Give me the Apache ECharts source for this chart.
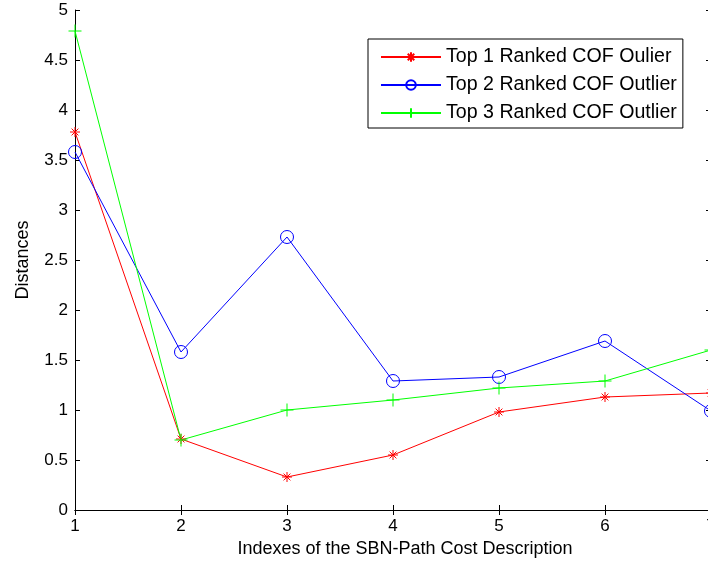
<!DOCTYPE html>
<html><head><meta charset="utf-8">
<script src="https://cdn.jsdelivr.net/npm/echarts@6/dist/echarts.min.js"></script>
<style>html,body{margin:0;padding:0;background:#fff}#c{width:708px;height:566px}</style>
</head><body><div id="c"></div>
<script>
const xIdx = [1, 2, 3, 4, 5, 6, 7];
const top1 = [3.78, 0.71, 0.33, 0.55, 0.98, 1.13, 1.17];
const top2 = [3.58, 1.58, 2.73, 1.29, 1.33, 1.69, 0.99];
const top3 = [4.79, 0.70, 1.00, 1.10, 1.22, 1.29, 1.60];
const names = ['Top 1 Ranked COF Oulier', 'Top 2 Ranked COF Outlier', 'Top 3 Ranked COF Outlier'];
const font = 'Liberation Sans, Arial, Helvetica, sans-serif';
const pair = a => xIdx.map((x, i) => [x, a[i]]);
const asterisk = 'path://M0,5L10,5M5,0L5,10M1.6,1.6L8.4,8.4M1.6,8.4L8.4,1.6';
const plus = 'path://M0,5L10,5M5,0L5,10';
const ring = 'path://M10,5A5,5,0,1,1,0,5A5,5,0,1,1,10,5Z';
const chart = echarts.init(document.getElementById('c'), null, {renderer: 'canvas'});
const axisCommon = {
  axisLine: {show: true, lineStyle: {color: '#000', width: 1}},
  axisTick: {show: true, inside: true, length: 5, lineStyle: {color: '#000'}},
  splitLine: {show: false}
};
function mk(name, data, color, symbol, size, fill) {
  return {
    name, type: 'line', data: pair(data), symbol, symbolSize: size,
    lineStyle: {color, width: 1},
    itemStyle: {color: fill, borderColor: color, borderWidth: 1},
    emphasis: {disabled: true}, animation: false
  };
}
chart.setOption({
  animation: false,
  backgroundColor: '#fff',
  grid: {left: 75, right: -3, top: 10, bottom: 56, containLabel: false, outerBoundsMode: 'none'},
  legend: {
    orient: 'vertical', left: 368, top: 39,
    padding: [8, 6, 5, 12], itemGap: 8, itemWidth: 60, itemHeight: 12,
    borderColor: '#000', borderWidth: 1, backgroundColor: '#fff',
    textStyle: {fontFamily: font, fontSize: 19.6, color: '#000'},
    data: names
  },
  xAxis: [
    Object.assign({type: 'value', min: 1, max: 7, interval: 1, position: 'bottom',
      name: 'Indexes of the SBN-Path Cost Description', nameLocation: 'middle', nameGap: 30,
      nameTextStyle: {fontFamily: font, fontSize: 18, color: '#000', padding: [0, 0, 0, 24]},
      axisLabel: {fontFamily: font, fontSize: 17, color: '#000', margin: 8}}, axisCommon),
    Object.assign({type: 'value', min: 1, max: 7, interval: 1, position: 'top',
      axisLabel: {show: false}}, axisCommon)
  ],
  yAxis: [
    Object.assign({type: 'value', min: 0, max: 5, interval: 0.5, position: 'left',
      name: 'Distances', nameLocation: 'middle', nameGap: 43,
      nameTextStyle: {fontFamily: font, fontSize: 18, color: '#000'},
      axisLabel: {fontFamily: font, fontSize: 17, color: '#000', margin: 7}}, axisCommon),
    Object.assign({type: 'value', min: 0, max: 5, interval: 0.5, position: 'right',
      axisLabel: {show: false}}, axisCommon)
  ],
  series: [
    mk(names[0], top1, '#ff0000', asterisk, 10, '#ff0000'),
    mk(names[1], top2, '#0000ff', ring, 13, 'rgba(0,0,0,0)'),
    mk(names[2], top3, '#00ff00', plus, 13, '#00ff00')
  ]
});
</script></body></html>
